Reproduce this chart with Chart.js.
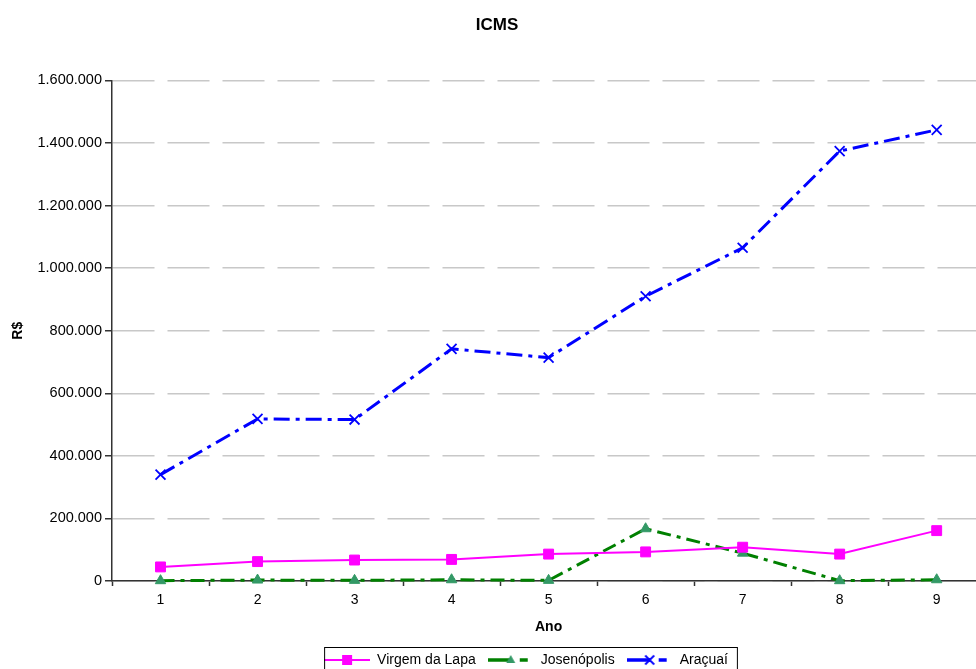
<!DOCTYPE html>
<html>
<head>
<meta charset="utf-8">
<title>ICMS</title>
<script src="https://cdn.jsdelivr.net/npm/chart.js@4.4.1/dist/chart.umd.min.js"></script>
<style>
	body { margin: 0; overflow: hidden; background: #ffffff; }
	#box { width: 976px; height: 669px; overflow: hidden; }
</style>
</head>
<body>
<div id="box">
	<canvas id="myChart" width="994" height="677"></canvas>
</div>

<script>
// Data
const anos = ['1', '2', '3', '4', '5', '6', '7', '8', '9'];

const virgemDaLapa = [45000, 62000, 67000, 69000, 86000, 93000, 108000, 86000, 161000];
const josenopolis = [1000, 3000, 2000, 4000, 2000, 167000, 89000, 1000, 4000];
const aracuai = [340000, 518000, 516000, 742000, 714000, 910000, 1065000, 1374000, 1442000];

const yTicks = [0, 200000, 400000, 600000, 800000, 1000000, 1200000, 1400000, 1600000];

const fontName = "'Liberation Sans', Arial, sans-serif";


// small pictures for the legend (line with the marker in the middle)
function legendSymbol(color, width, dash, marker, markerColor) {
	let c = document.createElement('canvas');
	c.width = 46;
	c.height = 14;
	let ctx = c.getContext('2d');
	let mid = c.width / 2;
	ctx.strokeStyle = color;
	ctx.lineWidth = width;
	ctx.setLineDash(dash);
	ctx.beginPath();
	ctx.moveTo(0, 7);
	ctx.lineTo(c.width, 7);
	ctx.stroke();
	ctx.setLineDash([]);

	if (marker == 'rect') {
		ctx.fillStyle = markerColor;
		ctx.fillRect(mid - 5, 2, 10, 10);
	}
	if (marker == 'triangle') {
		ctx.fillStyle = markerColor;
		ctx.beginPath();
		ctx.moveTo(mid, 2);
		ctx.lineTo(mid + 4.5, 10);
		ctx.lineTo(mid - 4.5, 10);
		ctx.closePath();
		ctx.fill();
	}
	if (marker == 'cross') {
		ctx.strokeStyle = markerColor;
		ctx.lineWidth = 1.8;
		ctx.beginPath();
		ctx.moveTo(mid - 4.5, 2.5);
		ctx.lineTo(mid + 4.5, 11.5);
		ctx.moveTo(mid + 4.5, 2.5);
		ctx.lineTo(mid - 4.5, 11.5);
		ctx.stroke();
	}
	return c;
}

const symbols = [
	legendSymbol('#ff00ff', 2, [], 'rect', '#ff00ff'),
	legendSymbol('#008000', 3.5, [24, 8, 8, 20], 'triangle', '#339966'),
	legendSymbol('#0000ff', 3.5, [24, 8, 8, 20], 'cross', '#0000ff')
];


// border around the legend + moving it a bit to the right
const legendBox = {
	id: 'legendBox',
	afterLayout(chart) {
		chart.legend.left += 58;
	},
	afterDraw(chart) {
		let boxes = chart.legend.legendHitBoxes;
		if (!boxes || boxes.length == 0) return;
		let first = boxes[0];
		let last = boxes[boxes.length - 1];
		let ctx = chart.ctx;
		ctx.save();
		ctx.strokeStyle = '#000000';
		ctx.lineWidth = 1;
		ctx.strokeRect(first.left + 0.5, first.top - 5.5, last.left + last.width - first.left + 9, first.height + 12);
		ctx.restore();
	}
};


const myChart = document.getElementById('myChart');

let lineChart = new Chart(myChart, {
	type: 'line',
	data: {
		labels: anos,
		datasets: [
			{
				label: 'Virgem da Lapa',
				data: virgemDaLapa,
				borderColor: '#ff00ff',
				backgroundColor: '#ff00ff',
				borderWidth: 2,
				pointStyle: 'rect',
				pointRadius: 7,
				pointBackgroundColor: '#ff00ff',
				pointBorderColor: '#ff00ff',
				pointBorderWidth: 1,
				clip: false
			},
			{
				label: 'Josenópolis',
				data: josenopolis,
				borderColor: '#008000',
				backgroundColor: '#339966',
				borderWidth: 3,
				borderDash: [14, 6, 4, 6],
				pointStyle: 'triangle',
				pointRadius: 6,
				pointBackgroundColor: '#339966',
				pointBorderColor: '#339966',
				pointBorderWidth: 1,
				clip: false
			},
			{
				label: 'Araçuaí',
				data: aracuai,
				borderColor: '#0000ff',
				backgroundColor: '#0000ff',
				borderWidth: 3,
				borderDash: [16, 6, 4, 6],
				pointStyle: 'crossRot',
				pointRadius: 7,
				pointBorderColor: '#0000ff',
				pointBorderWidth: 1.8,
				clip: false
			}
		]
	},
	options: {
		responsive: false,
		animation: false,
		devicePixelRatio: 1,
		layout: {
			padding: { left: 0, right: 0, top: 0, bottom: 0 }
		},
		elements: {
			line: { tension: 0 }
		},
		plugins: {
			title: {
				display: true,
				text: 'ICMS',
				color: '#000000',
				font: { family: fontName, size: 17, weight: 'bold' },
				padding: { top: 15, bottom: 45 }
			},
			legend: {
				position: 'bottom',
				labels: {
					color: '#000000',
					font: { family: fontName, size: 14 },
					padding: 12,
					usePointStyle: true,
					pointStyleWidth: 46,
					generateLabels(chart) {
						return chart.data.datasets.map((ds, i) => {
							return {
								text: ds.label,
								pointStyle: symbols[i],
								fillStyle: ds.borderColor,
								strokeStyle: ds.borderColor,
								lineWidth: 0,
								hidden: false,
								datasetIndex: i
							};
						});
					}
				}
			},
			tooltip: { enabled: false }
		},
		scales: {
			x: {
				offset: true,
				afterFit(scale) {
					scale.height = 60;
				},
				grid: {
					offset: true,
					drawOnChartArea: false,
					drawTicks: true,
					tickLength: 5,
					tickColor: '#333333',
					tickWidth: 1.5
				},
				border: { color: '#333333', width: 1.5 },
				ticks: {
					color: '#000000',
					font: { family: fontName, size: 14 },
					padding: 6
				},
				title: {
					display: true,
					text: 'Ano',
					color: '#000000',
					font: { family: fontName, size: 14, weight: 'bold' },
					padding: { top: 0, bottom: 5 }
				}
			},
			y: {
				min: yTicks[0],
				max: yTicks[yTicks.length - 1],
				afterFit(scale) {
					scale.width = 112;
				},
				afterBuildTicks(scale) {
					scale.ticks = yTicks.map(v => ({ value: v }));
				},
				grid: {
					color: '#c8c8c8',
					lineWidth: 1.5,
					tickLength: 7,
					tickColor: '#333333',
					tickWidth: 1.5,
					tickBorderDash: []
				},
				border: { color: '#333333', width: 1.5, dash: [42, 13] },
				ticks: {
					color: '#000000',
					font: { family: fontName, size: 14.5 },
					padding: 3,
					callback: function (value) {
						return String(value).replace(/\B(?=(\d{3})+(?!\d))/g, '.');
					}
				},
				title: {
					display: true,
					text: 'R$',
					color: '#000000',
					font: { family: fontName, size: 14, weight: 'bold' },
					padding: { top: 10, bottom: 0 }
				}
			}
		}
	},
	plugins: [legendBox]
});

console.log(lineChart.chartArea);
</script>
</body>
</html>
